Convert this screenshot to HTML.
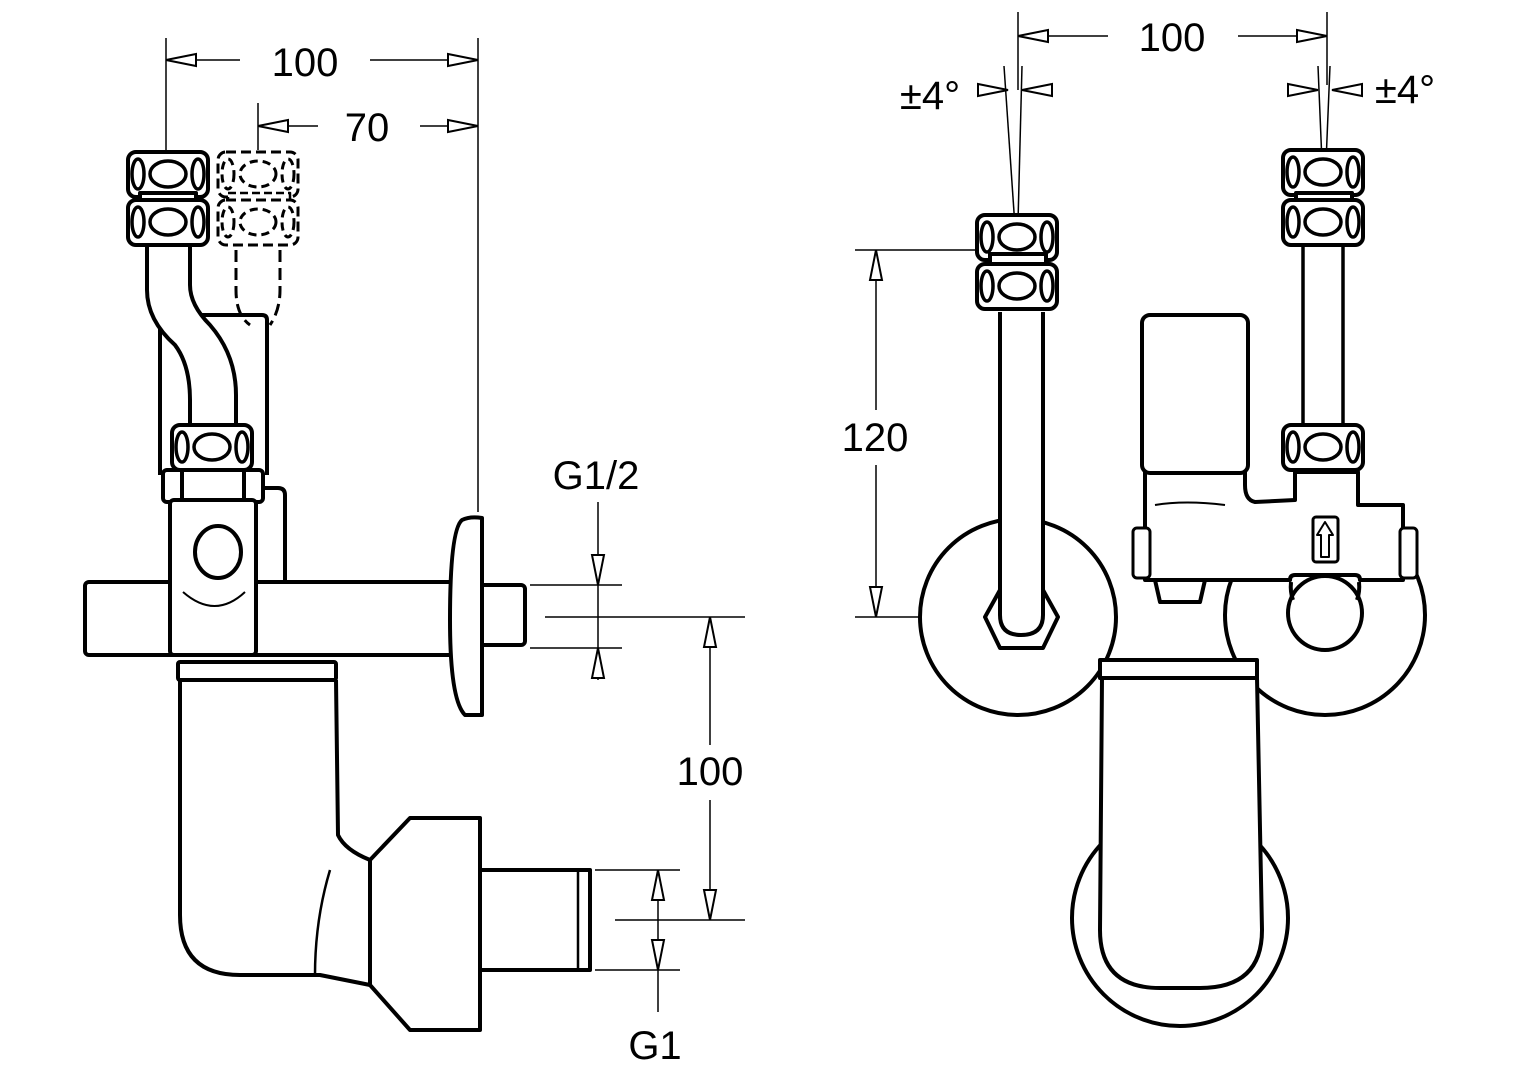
<!DOCTYPE html>
<html><head><meta charset="utf-8"><style>
html,body{margin:0;padding:0;background:#fff;width:1528px;height:1080px;overflow:hidden}
svg text{font-family:"Liberation Sans",sans-serif;font-size:40px;fill:#000}
</style></head><body>
<svg width="1528" height="1080" viewBox="0 0 1528 1080" xmlns="http://www.w3.org/2000/svg">
<defs>
<g id="nut">
<rect x="0" y="0" width="80" height="45" rx="8" fill="#fff" stroke="#000" stroke-width="4"/>
<ellipse cx="10" cy="22" rx="6" ry="15" fill="none" stroke="#000" stroke-width="3.5"/>
<ellipse cx="40" cy="22" rx="18" ry="13" fill="none" stroke="#000" stroke-width="3.5"/>
<ellipse cx="70" cy="22" rx="6" ry="15" fill="none" stroke="#000" stroke-width="3.5"/>
</g>
<g id="nutd">
<rect x="0" y="0" width="80" height="45" rx="8" fill="#fff" stroke="#000" stroke-width="3" stroke-dasharray="10 5"/>
<ellipse cx="10" cy="22" rx="6" ry="15" fill="none" stroke="#000" stroke-width="3" stroke-dasharray="8 5"/>
<ellipse cx="40" cy="22" rx="18" ry="13" fill="none" stroke="#000" stroke-width="3" stroke-dasharray="8 5"/>
<ellipse cx="70" cy="22" rx="6" ry="15" fill="none" stroke="#000" stroke-width="3" stroke-dasharray="8 5"/>
</g>
</defs>

<g fill="none" stroke="#000" stroke-width="1.5">
<line x1="166" y1="38" x2="166" y2="150"/><line x1="478" y1="38" x2="478" y2="512"/>
<line x1="258" y1="103" x2="258" y2="150"/>
<line x1="166" y1="60" x2="240" y2="60"/><line x1="370" y1="60" x2="478" y2="60"/>
<line x1="258" y1="126" x2="318" y2="126"/><line x1="420" y1="126" x2="478" y2="126"/>
<line x1="530" y1="585" x2="622" y2="585"/><line x1="530" y1="648" x2="622" y2="648"/>
<line x1="545" y1="617" x2="745" y2="617"/>
<line x1="598" y1="502" x2="598" y2="680"/>
<line x1="710" y1="617" x2="710" y2="745"/><line x1="710" y1="800" x2="710" y2="920"/>
<line x1="615" y1="920" x2="745" y2="920"/>
<line x1="595" y1="870" x2="680" y2="870"/><line x1="595" y1="970" x2="680" y2="970"/>
<line x1="658" y1="870" x2="658" y2="1012"/>
<line x1="1018" y1="12" x2="1018" y2="90"/><line x1="1327" y1="12" x2="1327" y2="85"/>
<line x1="1018" y1="36" x2="1108" y2="36"/><line x1="1238" y1="36" x2="1327" y2="36"/>
<line x1="1004" y1="66" x2="1020" y2="300"/><line x1="1022" y1="66" x2="1016" y2="300"/>
<line x1="1318" y1="66" x2="1325" y2="235"/><line x1="1330" y1="66" x2="1323" y2="235"/>
<line x1="855" y1="250" x2="980" y2="250"/><line x1="855" y1="617" x2="925" y2="617"/>
<line x1="876" y1="250" x2="876" y2="410"/><line x1="876" y1="465" x2="876" y2="617"/>
</g>
<g fill="#fff" stroke="#000" stroke-width="2">
<polygon points="166,60 196,54 196,66"/><polygon points="478,60 448,54 448,66"/>
<polygon points="258,126 288,120 288,132"/><polygon points="478,126 448,120 448,132"/>
<polygon points="598,585 592,555 604,555"/><polygon points="598,648 592,678 604,678"/>
<polygon points="710,617 704,647 716,647"/><polygon points="710,920 704,890 716,890"/>
<polygon points="658,870 652,900 664,900"/><polygon points="658,970 652,940 664,940"/>
<polygon points="1018,36 1048,30 1048,42"/><polygon points="1327,36 1297,30 1297,42"/>
<polygon points="1008,90 978,84 978,96"/><polygon points="1022,90 1052,84 1052,96"/>
<polygon points="1318,90 1288,84 1288,96"/><polygon points="1332,90 1362,84 1362,96"/>
<polygon points="876,250 870,280 882,280"/><polygon points="876,617 870,587 882,587"/>
</g>
<text x="305" y="76" text-anchor="middle">100</text>
<text x="367" y="141" text-anchor="middle">70</text>
<text x="596" y="489" text-anchor="middle">G1/2</text>
<text x="710" y="785" text-anchor="middle">100</text>
<text x="655" y="1059" text-anchor="middle">G1</text>
<text x="1172" y="51" text-anchor="middle">100</text>
<text x="930" y="109" text-anchor="middle">±4°</text>
<text x="1405" y="103" text-anchor="middle">±4°</text>
<text x="875" y="451" text-anchor="middle">120</text>

<g fill="#fff" stroke="#000" stroke-width="4" stroke-linejoin="round">
<path d="M160,475 L160,318 Q160,315 165,315 L262,315 Q267,315 267,320 L267,475"/>
<path d="M236,250 L236,290 Q236,315 250,325" fill="none" stroke-dasharray="12 6" stroke-width="3"/>
<path d="M280,250 L280,290 Q280,310 270,325" fill="none" stroke-dasharray="12 6" stroke-width="3"/>
<path d="M147,245 L147,290 Q147,320 175,345 Q190,365 190,400 L190,428 L236,428 L236,395 Q236,355 210,325 Q190,305 190,285 L190,245" />
<use href="#nutd" x="218" y="152"/>
<rect x="228" y="193" width="62" height="10" fill="#fff" stroke="#000" stroke-width="2.5" stroke-dasharray="8 4"/>
<use href="#nutd" x="218" y="200"/>
<use href="#nut" x="128" y="152"/>
<rect x="140" y="193" width="56" height="10"/>
<use href="#nut" x="128" y="200"/>
<use href="#nut" x="172" y="425"/>
<path d="M255,580 L255,488 L278,488 Q285,488 285,495 L285,580"/>
<rect x="163" y="470" width="100" height="32" rx="4"/>
<line x1="182" y1="472" x2="182" y2="502"/><line x1="244" y1="472" x2="244" y2="502"/>
<rect x="85" y="582" width="380" height="73" rx="4"/>
<rect x="170" y="500" width="86" height="155" rx="4"/>
<ellipse cx="218" cy="552" rx="23" ry="26"/>
<path d="M183,592 Q215,620 245,592" fill="none" stroke-width="2"/>
<rect x="480" y="585" width="45" height="60" rx="4"/>
<path d="M482,518 L482,715 L465,715 Q450,700 450,620 Q450,530 462,520 Q470,516 482,518 Z"/>
<path d="M180,680 L180,915 Q180,975 240,975 L320,975 L370,985 L370,860 Q345,850 338,835 L336,680"/>
<path d="M330,870 Q315,920 315,975" fill="none" stroke-width="2.5"/>
<rect x="178" y="662" width="158" height="18" rx="2"/>
<polygon points="370,860 410,818 480,818 480,1030 410,1030 370,985"/>
<rect x="480" y="870" width="110" height="100"/>
<line x1="578" y1="870" x2="578" y2="970" stroke-width="2.5"/>

<circle cx="1018" cy="617" r="98"/>
<circle cx="1325" cy="615" r="100"/>
<circle cx="1180" cy="918" r="108"/>
<path d="M1102,678 L1100,930 Q1100,988 1160,988 L1200,988 Q1262,988 1262,930 L1257,678 Z"/>
<rect x="1100" y="660" width="157" height="18"/>
<polygon points="985,617 1000,590 1043,590 1058,617 1043,648 1000,648"/>
<path d="M1000,312 L1000,615 Q1000,635 1021,635 Q1043,635 1043,615 L1043,312"/>
<use href="#nut" x="977" y="215"/>
<rect x="990" y="254" width="56" height="10"/>
<use href="#nut" x="977" y="264"/>
<rect x="1303" y="243" width="40" height="185" stroke-width="3.5"/>
<use href="#nut" x="1283" y="150"/>
<rect x="1296" y="193" width="56" height="10"/>
<use href="#nut" x="1283" y="200"/>
<use href="#nut" x="1283" y="425"/>
<polygon points="1155,580 1205,580 1200,602 1160,602"/>
<circle cx="1325" cy="613" r="37"/>
<path d="M1145,470 L1145,580 L1290,580 Q1290,575 1295,575 L1355,575 Q1360,575 1360,580 L1403,580 L1403,505 L1358,505 L1358,472 L1295,472 L1295,500 L1255,502 Q1245,500 1245,485 L1245,470 Z"/>
<path d="M1291,582 Q1290,592 1293,600" fill="none" stroke-width="4"/>
<path d="M1359,582 Q1360,592 1357,600" fill="none" stroke-width="4"/>
<rect x="1142" y="315" width="106" height="158" rx="8"/>
<path d="M1155,505 Q1185,500 1225,505" fill="none" stroke-width="2"/>
<rect x="1133" y="528" width="17" height="50" rx="4" stroke-width="3"/>
<rect x="1400" y="528" width="17" height="50" rx="4" stroke-width="3"/>
<rect x="1313" y="517" width="25" height="45" rx="3" stroke-width="3"/>
<polygon points="1325,522 1333,535 1329,535 1329,557 1321,557 1321,535 1317,535" stroke-width="2"/>
</g>
</svg>
</body></html>
